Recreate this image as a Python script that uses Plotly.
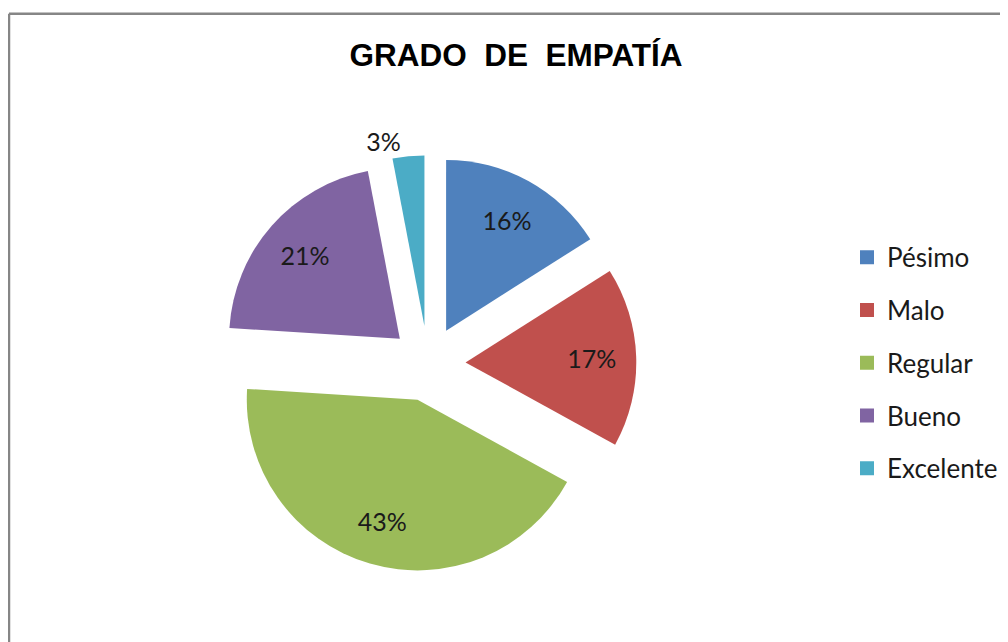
import plotly.graph_objects as go

categorias = ["Pésimo", "Malo", "Regular", "Bueno", "Excelente"]
porcentajes = [16, 17, 43, 21, 3]
colores = ["#4F81BD", "#C0504D", "#9BBB59", "#8064A2", "#4BACC6"]
posicion_texto = ["inside", "inside", "inside", "inside", "outside"]

W, H = 1008, 642
fuente = "Lato"

# dominio del pastel (en píxeles de la figura)
cx, cy, medio = 420, 367, 215
dominio = dict(x=[(cx - medio) / W, (cx + medio) / W],
               y=[1 - (cy + medio) / H, 1 - (cy - medio) / H])
separacion = [0.22] * len(categorias)

fig = go.Figure()

# porciones
fig.add_trace(go.Pie(
    labels=categorias,
    values=porcentajes,
    sort=False,
    direction="clockwise",
    rotation=0,
    pull=separacion,
    marker=dict(colors=colores, line=dict(width=0)),
    textinfo="none",
    domain=dominio,
    showlegend=False,
    hoverinfo="label+percent",
))

# etiquetas de porcentaje: anillo transparente para ubicarlas hacia afuera
fig.add_trace(go.Pie(
    labels=categorias,
    values=porcentajes,
    sort=False,
    direction="clockwise",
    rotation=0,
    pull=separacion,
    hole=0.48,
    marker=dict(colors=["rgba(0,0,0,0)"] * len(categorias), line=dict(width=0)),
    texttemplate="%{percent:.0%}",
    textposition=posicion_texto,
    insidetextorientation="horizontal",
    textfont=dict(family=fuente, size=25, color="#1a1a1a"),
    domain=dominio,
    showlegend=False,
    hoverinfo="skip",
))

# leyenda con separación amplia entre entradas
for nombre, color in zip(categorias, colores):
    fig.add_trace(go.Scatter(
        x=[None], y=[None], mode="markers", name=nombre,
        legendgroup=nombre,
        marker=dict(symbol="square", size=14, color=color),
    ))

fig.update_layout(
    width=W, height=H,
    margin=dict(l=0, r=0, t=0, b=0),
    paper_bgcolor="white",
    plot_bgcolor="white",
    xaxis=dict(visible=False),
    yaxis=dict(visible=False),
    title=dict(
        text="<b>GRADO  DE  EMPATÍA</b>",
        x=508 / W, xanchor="center",
        y=1 - 47 / H, yanchor="middle",
        font=dict(family="Liberation Sans", size=31.5, color="black"),
    ),
    legend=dict(
        x=839 / W, xanchor="left",
        y=1 - 233 / H, yanchor="top",
        tracegroupgap=16,
        font=dict(family=fuente, size=26, color="#1a1a1a"),
        bgcolor="rgba(0,0,0,0)",
    ),
    shapes=[
        dict(type="line", xref="paper", yref="paper",
             x0=1 / W, x1=1.02, y0=1 - 6 / H, y1=1 - 6 / H,
             line=dict(color="#868686", width=2.5)),
        dict(type="line", xref="paper", yref="paper",
             x0=1 / W, x1=1 / W, y0=-0.02, y1=1 - 6 / H,
             line=dict(color="#868686", width=2.5)),
    ],
)

fig.write_html("out.html", config={"displayModeBar": False})
